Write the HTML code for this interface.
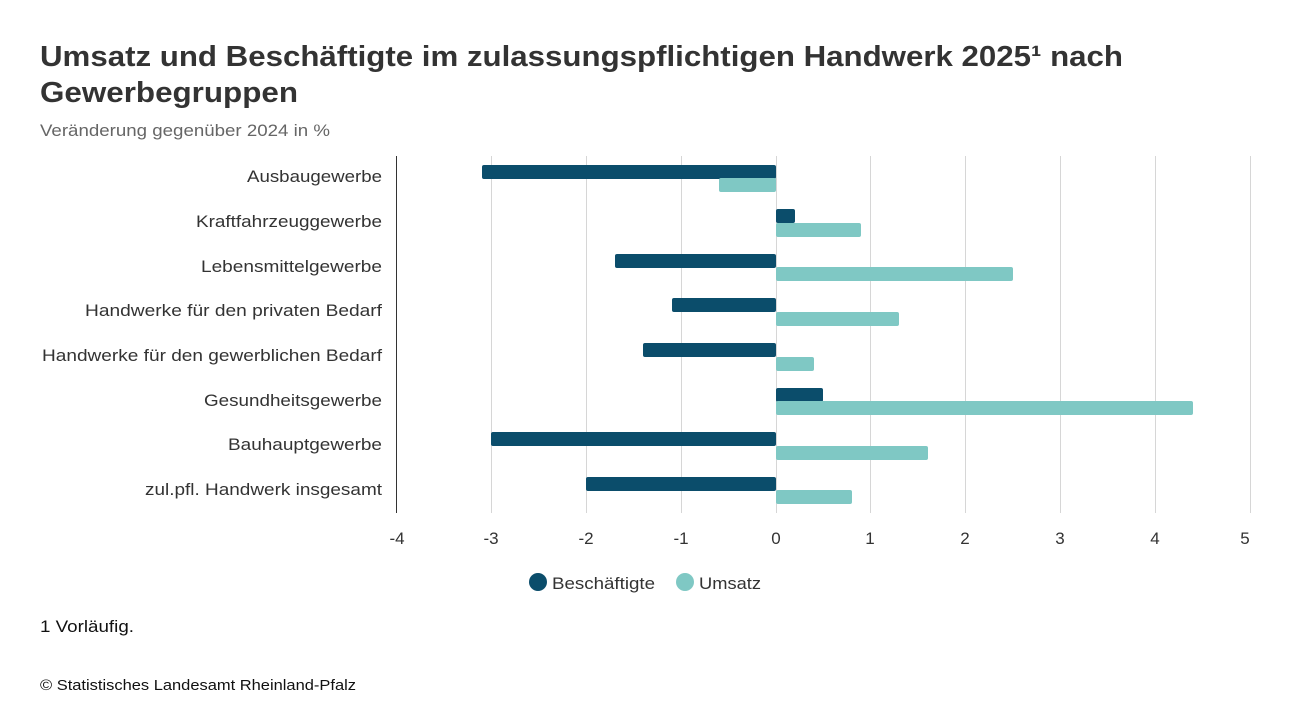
<!DOCTYPE html>
<html><head><meta charset="utf-8"><style>
body{margin:0;background:#fff;width:1290px;height:700px;overflow:hidden;font-family:"Liberation Sans",sans-serif;}
</style></head><body>
<svg width="1290" height="700" xmlns="http://www.w3.org/2000/svg" font-family="Liberation Sans, sans-serif">
<text x="40" y="66" font-size="29" font-weight="bold" fill="#333" textLength="1083" lengthAdjust="spacingAndGlyphs">Umsatz und Beschäftigte im zulassungspflichtigen Handwerk 2025¹ nach</text>
<text x="40" y="102" font-size="29" font-weight="bold" fill="#333" textLength="258" lengthAdjust="spacingAndGlyphs">Gewerbegruppen</text>
<text x="40" y="136" font-size="17" fill="#666" textLength="290" lengthAdjust="spacingAndGlyphs">Veränderung gegenüber 2024 in %</text>
<g stroke="#d6d6d6" stroke-width="1">
<line x1="491.5" y1="156" x2="491.5" y2="513"/><line x1="586.5" y1="156" x2="586.5" y2="513"/>
<line x1="681.5" y1="156" x2="681.5" y2="513"/><line x1="776.5" y1="156" x2="776.5" y2="513"/>
<line x1="870.5" y1="156" x2="870.5" y2="513"/><line x1="965.5" y1="156" x2="965.5" y2="513"/>
<line x1="1060.5" y1="156" x2="1060.5" y2="513"/><line x1="1155.5" y1="156" x2="1155.5" y2="513"/>
<line x1="1250.5" y1="156" x2="1250.5" y2="513"/>
</g>
<line x1="396.5" y1="156" x2="396.5" y2="513" stroke="#333"/>
<g font-size="17" fill="#333" text-anchor="end" lengthAdjust="spacingAndGlyphs">
<text x="382" y="182" textLength="135" lengthAdjust="spacingAndGlyphs">Ausbaugewerbe</text>
<text x="382" y="227" textLength="186" lengthAdjust="spacingAndGlyphs">Kraftfahrzeuggewerbe</text>
<text x="382" y="272" textLength="181" lengthAdjust="spacingAndGlyphs">Lebensmittelgewerbe</text>
<text x="382" y="316" textLength="297" lengthAdjust="spacingAndGlyphs">Handwerke für den privaten Bedarf</text>
<text x="382" y="361" textLength="340" lengthAdjust="spacingAndGlyphs">Handwerke für den gewerblichen Bedarf</text>
<text x="382" y="406" textLength="178" lengthAdjust="spacingAndGlyphs">Gesundheitsgewerbe</text>
<text x="382" y="450" textLength="154" lengthAdjust="spacingAndGlyphs">Bauhauptgewerbe</text>
<text x="382" y="495" textLength="237" lengthAdjust="spacingAndGlyphs">zul.pfl. Handwerk insgesamt</text>
</g>
<g fill="#0b4d6b">
<rect x="482" y="165" width="294" height="14" rx="2"/>
<rect x="776" y="209" width="19" height="14" rx="2"/>
<rect x="615" y="254" width="161" height="14" rx="2"/>
<rect x="672" y="298" width="104" height="14" rx="2"/>
<rect x="643" y="343" width="133" height="14" rx="2"/>
<rect x="776" y="388" width="47" height="14" rx="2"/>
<rect x="491" y="432" width="285" height="14" rx="2"/>
<rect x="586" y="477" width="190" height="14" rx="2"/>
</g>
<g fill="#7fc8c4">
<rect x="719" y="178" width="57" height="14" rx="2"/>
<rect x="776" y="223" width="85" height="14" rx="2"/>
<rect x="776" y="267" width="237" height="14" rx="2"/>
<rect x="776" y="312" width="123" height="14" rx="2"/>
<rect x="776" y="357" width="38" height="14" rx="2"/>
<rect x="776" y="401" width="417" height="14" rx="2"/>
<rect x="776" y="446" width="152" height="14" rx="2"/>
<rect x="776" y="490" width="76" height="14" rx="2"/>
</g>
<g font-size="17" fill="#333" text-anchor="middle">
<text x="397" y="544">-4</text><text x="491" y="544">-3</text><text x="586" y="544">-2</text>
<text x="681" y="544">-1</text><text x="776" y="544">0</text><text x="870" y="544">1</text>
<text x="965" y="544">2</text><text x="1060" y="544">3</text><text x="1155" y="544">4</text>
<text x="1245" y="544">5</text>
</g>
<circle cx="538" cy="582" r="9" fill="#0b4d6b"/>
<text x="552" y="589" font-size="17" fill="#333" textLength="103" lengthAdjust="spacingAndGlyphs">Beschäftigte</text>
<circle cx="685" cy="582" r="9" fill="#7fc8c4"/>
<text x="699" y="589" font-size="17" fill="#333" textLength="62" lengthAdjust="spacingAndGlyphs">Umsatz</text>
<text x="40" y="632" font-size="17" fill="#111" textLength="94" lengthAdjust="spacingAndGlyphs">1 Vorläufig.</text>
<text x="40" y="690" font-size="15" fill="#111" textLength="316" lengthAdjust="spacingAndGlyphs">© Statistisches Landesamt Rheinland-Pfalz</text>
</svg>
</body></html>
